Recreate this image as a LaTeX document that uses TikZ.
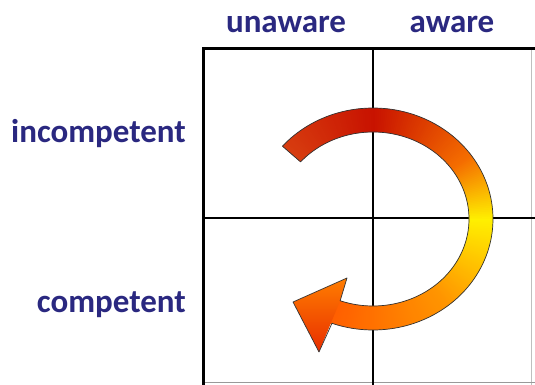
\documentclass[tikz,border=0pt]{standalone}
\usepackage{fontspec}
\setmainfont{Carlito}
\begin{document}
\begin{tikzpicture}[x=1pt,y=1pt,
  lbl/.style={text=labelblue,font=\bfseries\fontsize{33}{36}\selectfont,inner sep=0pt},
  gridthick/.style={line width=3pt,black},
  gridthin/.style={line width=1.3pt,black}]
\definecolor{labelblue}{RGB}{42,40,128}
\definecolor{cTail}{RGB}{215,60,15}
\definecolor{cTop}{RGB}{200,18,0}
\definecolor{cOr}{RGB}{245,110,0}
\definecolor{cYel}{RGB}{255,240,0}
\definecolor{cOrB}{RGB}{255,150,0}
\definecolor{cBot}{RGB}{255,95,0}
\definecolor{headTop}{RGB}{255,125,0}
\definecolor{headBot}{RGB}{232,45,0}
\useasboundingbox (0,0) rectangle (535,385);
\fill[white] (0,0) rectangle (535,385);
% grid
\draw[gray!50,line width=0.8pt] (531,336) -- (531,0);
\draw[gray!80,line width=1pt] (203,2) -- (535,2);
\draw[gridthin] (373,336) -- (373,0);
\draw[gridthin] (203,167) -- (535,167);
\draw[gridthick] (203,0) -- (203,336) -- (535,336);
% labels
\node[lbl,anchor=base] (unaware) at (286,352) {unaware};
\node[lbl,anchor=base] (aware) at (452,352) {aware};
\node[lbl,anchor=base east] (incomp) at (186,242) {incompetent};
\node[lbl,anchor=base east] (comp) at (186,72) {competent};
% arrow
\newcommand\ringseg[2]{%
  \fill[#2] ({373+121*cos(#1)},{166+112*sin(#1)}) -- ({373+121*cos(#1-1.5)},{166+112*sin(#1-1.5)}) -- ({373+95*cos(#1-1.5)},{166+86*sin(#1-1.5)}) -- ({373+95*cos(#1)},{166+86*sin(#1)}) -- cycle;}
\def\arrowoutline{plot[domain=139:-110,samples=125] ({373+120*cos(\x)},{166+111*sin(\x)}) -- (319,33) -- (293,83) -- (347,107) -- plot[domain=-110:139,samples=125] ({373+96*cos(\x)},{166+87*sin(\x)}) -- cycle}
\begin{scope}
\clip \arrowoutline;
\foreach \a in {141,140,...,91}{\pgfmathsetmacro\p{100*(\a-90)/48}\ringseg{\a}{cTail!\p!cTop}}
\foreach \a in {90,89,...,36}{\pgfmathsetmacro\p{100*(\a-35)/55}\ringseg{\a}{cTop!\p!cOr}}
\foreach \a in {35,34,...,1}{\pgfmathsetmacro\p{100*(\a)/35}\ringseg{\a}{cOr!\p!cYel}}
\foreach \a in {0,-1,...,-49}{\pgfmathsetmacro\p{100*(-\a)/50}\ringseg{\a}{cOrB!\p!cYel}}
\foreach \a in {-50,-51,...,-112}{\pgfmathsetmacro\p{100*(-50-\a)/60}\ringseg{\a}{cBot!\p!cOrB}}
\shade[top color=headTop,bottom color=headBot] (319,33) -- (293,83) -- (347,107) -- (340,84) -- cycle;
\end{scope}
\draw[black!80,line width=0.7pt,line join=round] \arrowoutline;
\end{tikzpicture}
\end{document}
